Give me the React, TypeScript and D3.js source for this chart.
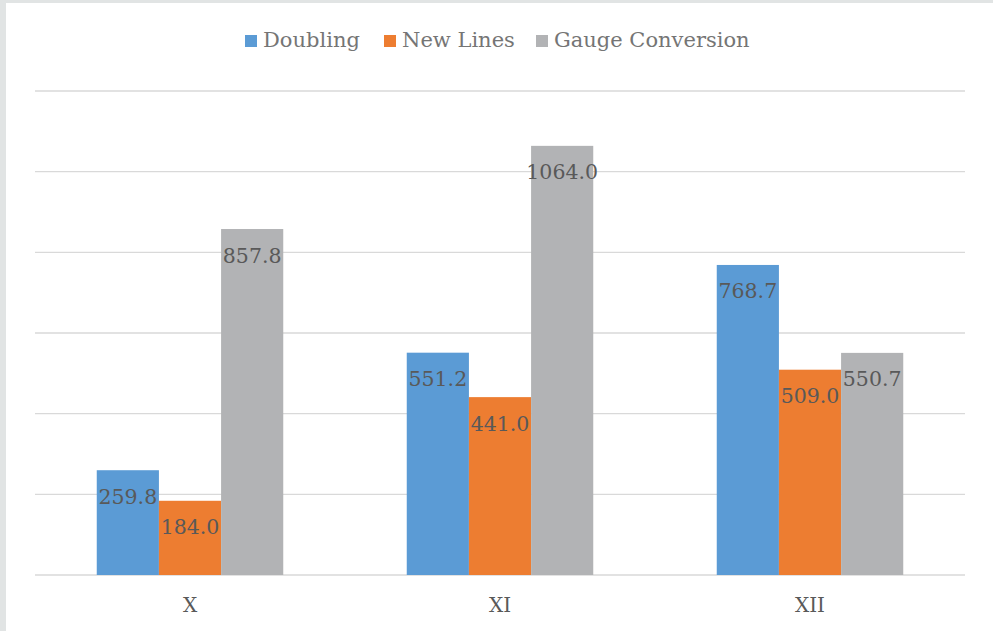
import React from "react";
import * as d3 from "d3";

const categories = ["X", "XI", "XII"];
const seriesNames = ["Doubling", "New Lines", "Gauge Conversion"];
const doubling = [259.8, 551.2, 768.7];
const newLines = [184.0, 441.0, 509.0];
const gaugeConversion = [857.8, 1064.0, 550.7];
const yTicks = [0, 200, 400, 600, 800, 1000, 1200];
const colors = ["#5B9BD5", "#ED7D31", "#B2B3B5"];

const W = 993;
const H = 631;
const FONT = "'DejaVu Serif', Constantia, Georgia, serif";

export default function App() {
  const seriesValues = [doubling, newLines, gaugeConversion];
  const x0 = d3.scaleBand<string>().domain(categories).range([35, 965]).paddingInner(0).paddingOuter(0);
  const groupW = x0.bandwidth() * (186.5 / 310);
  const x1 = d3.scaleBand<string>().domain(seriesNames).range([0, groupW]).padding(0);
  const y = d3.scaleLinear().domain([0, 1200]).range([575, 91]);

  const legendX = [245, 384, 536];

  return (
    <div style={{ position: "fixed", left: 0, top: 0, width: W, height: H }}>
      <svg width={W} height={H} style={{ display: "block" }}>
        <rect x={0} y={0} width={W} height={H} fill="#E1E4E4" />
        <rect x={6} y={3} width={W - 6} height={H - 3} fill="#FFFFFF" />
        {yTicks.map((t) => (
          <line key={t} x1={35} x2={965} y1={y(t)} y2={y(t)} stroke="#D9D9D9" strokeWidth={1.3} />
        ))}
        {categories.map((c, ci) => {
          const gx = (x0(c) as number) + (x0.bandwidth() - groupW) / 2;
          return (
            <g key={c}>
              {seriesNames.map((s, si) => {
                const v = seriesValues[si][ci];
                const bx = gx + (x1(s) as number);
                const by = y(v);
                return (
                  <g key={s}>
                    <rect x={bx} y={by} width={x1.bandwidth()} height={y(0) - by} fill={colors[si]} />
                    <text
                      x={bx + x1.bandwidth() / 2}
                      y={by + 28}
                      textAnchor="middle"
                      dominantBaseline="middle"
                      fontFamily={FONT}
                      fontSize={20.5}
                      fill="#595959"
                    >
                      {v.toFixed(1)}
                    </text>
                  </g>
                );
              })}
              <text
                x={(x0(c) as number) + x0.bandwidth() / 2}
                y={606}
                textAnchor="middle"
                dominantBaseline="middle"
                fontFamily={FONT}
                fontSize={20}
                fill="#595959"
              >
                {c}
              </text>
            </g>
          );
        })}
        {seriesNames.map((s, si) => (
          <g key={s}>
            <rect x={legendX[si]} y={35} width={12} height={12} fill={colors[si]} />
            <text
              x={legendX[si] + 18}
              y={41}
              dominantBaseline="middle"
              fontFamily={FONT}
              fontSize={21}
              fill="#757575"
            >
              {s}
            </text>
          </g>
        ))}
      </svg>
    </div>
  );
}
